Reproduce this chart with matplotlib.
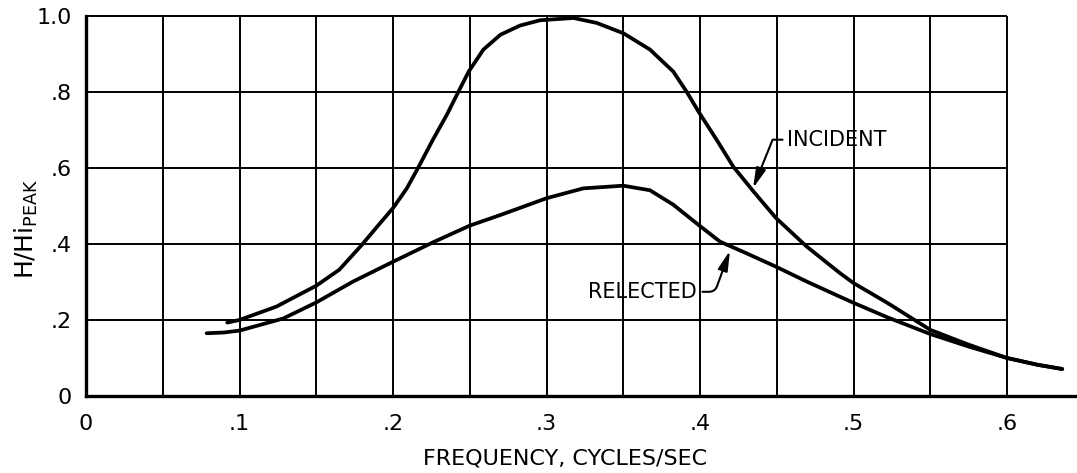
import matplotlib.pyplot as plt

# ====== Data ======
inc_freq = [0.092, 0.10, 0.124, 0.15, 0.165, 0.1796, 0.1915, 0.20, 0.209, 0.2165,
            0.226, 0.235, 0.2426, 0.2493, 0.2589, 0.27, 0.2827, 0.2958, 0.3175,
            0.3327, 0.35, 0.3674, 0.3826, 0.3913, 0.399, 0.4108, 0.4217, 0.4348,
            0.4495, 0.4695, 0.4912, 0.50, 0.522, 0.55, 0.575, 0.60, 0.62, 0.636]
inc_h = [0.193, 0.20, 0.235, 0.29, 0.332, 0.397, 0.454, 0.494, 0.546, 0.601,
         0.674, 0.739, 0.80, 0.853, 0.911, 0.95, 0.974, 0.988, 0.994,
         0.981, 0.954, 0.911, 0.853, 0.80, 0.748, 0.674, 0.603, 0.538,
         0.468, 0.393, 0.323, 0.297, 0.245, 0.174, 0.135, 0.10, 0.082, 0.071]

ref_freq = [0.0786, 0.09, 0.10, 0.1286, 0.15, 0.174, 0.20, 0.226, 0.25, 0.27, 0.30,
            0.324, 0.35, 0.3674, 0.3826, 0.399, 0.413, 0.4304, 0.4495, 0.4695,
            0.4912, 0.50, 0.522, 0.55, 0.575, 0.60, 0.62, 0.636]
ref_h = [0.165, 0.167, 0.172, 0.204, 0.246, 0.301, 0.353, 0.404, 0.448, 0.476, 0.52,
         0.546, 0.553, 0.541, 0.503, 0.45, 0.406, 0.375, 0.34, 0.301,
         0.261, 0.245, 0.207, 0.163, 0.13, 0.10, 0.082, 0.071]

x_ticks = [0, 0.1, 0.2, 0.3, 0.4, 0.5, 0.6]
x_labels = ["0", ".1", ".2", ".3", ".4", ".5", ".6"]
y_ticks = [0, 0.2, 0.4, 0.6, 0.8, 1.0]
y_labels = ["0", ".2", ".4", ".6", ".8", "1.0"]
grid_x = [0.05, 0.1, 0.15, 0.2, 0.25, 0.3, 0.35, 0.4, 0.45, 0.5, 0.55, 0.6]
grid_y = [0.2, 0.4, 0.6, 0.8, 1.0]

plt.rcParams['font.family'] = ['DejaVu Sans']

fig = plt.figure(figsize=(10.77, 4.73), dpi=100)
ax = fig.add_axes([86 / 1077, 1 - 396 / 473, (1077 - 86) / 1077, (396 - 15.7) / 473])
ax.set_xlim(0, 0.6456)
ax.set_ylim(0, 1.0)

# grid stops at .6 like the drawn paper
ax.vlines(grid_x, 0, 1.0, colors='black', linewidth=1.4, clip_on=False)
ax.hlines(grid_y, 0, 0.6, colors='black', linewidth=1.4, clip_on=False)

ax.plot(inc_freq, inc_h, color='black', linewidth=2.7,
        solid_capstyle='round', solid_joinstyle='round')
ax.plot(ref_freq, ref_h, color='black', linewidth=2.7,
        solid_capstyle='round', solid_joinstyle='round')

for s in ['top', 'right']:
    ax.spines[s].set_visible(False)
ax.spines['left'].set_linewidth(2.4)
ax.spines['bottom'].set_linewidth(2.4)

ax.set_xticks(x_ticks)
ax.set_xticklabels(x_labels, fontsize=16)
ax.set_yticks(y_ticks)
ax.set_yticklabels(y_labels, fontsize=16)
ax.tick_params(length=0, pad=10)
ax.tick_params(axis='x', pad=13)

ax.set_xlabel("FREQUENCY, CYCLES/SEC", fontsize=16)
ax.xaxis.set_label_coords((565 - 86) / (1077 - 86), -0.138)
ax.set_ylabel(r"H/Hi$_{\mathrm{PEAK}}$", fontsize=18, va='center')
ax.yaxis.set_label_coords(-0.06, 0.44)

# labels with leader arrows
ax.annotate("INCIDENT", xy=(0.4346, 0.547), xytext=(0.4565, 0.674),
            ha='left', va='center', fontsize=15,
            arrowprops=dict(arrowstyle="-|>,head_length=0.8,head_width=0.2",
                            color='black', linewidth=1.5, shrinkA=1, shrinkB=0,
                            connectionstyle="angle,angleA=0,angleB=68,rad=0"))
ax.annotate("RELECTED", xy=(0.4195, 0.382), xytext=(0.398, 0.274),
            ha='right', va='center', fontsize=15,
            arrowprops=dict(arrowstyle="-|>,head_length=0.8,head_width=0.2",
                            color='black', linewidth=1.5, shrinkA=2, shrinkB=0,
                            connectionstyle="angle,angleA=0,angleB=70,rad=6"))

plt.savefig("out.png", dpi=100)
plt.close()
